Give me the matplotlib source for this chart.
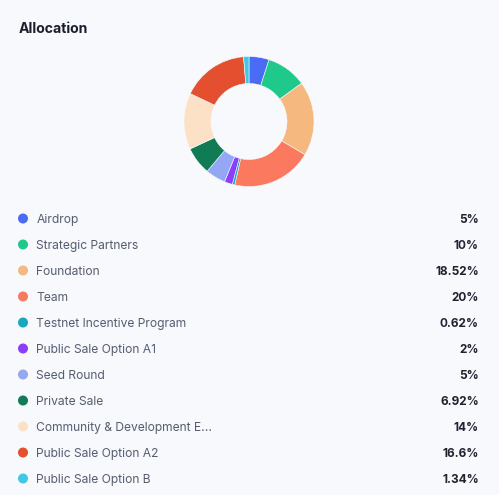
import numpy as np
import matplotlib.pyplot as plt

labels = ["Airdrop", "Strategic Partners", "Foundation", "Team",
          "Testnet Incentive Program", "Public Sale Option A1", "Seed Round",
          "Private Sale", "Community & Development E...", "Public Sale Option A2",
          "Public Sale Option B"]
values = [5, 10, 18.52, 20, 0.62, 2, 5, 6.92, 14, 16.6, 1.34]
value_text = ["5%", "10%", "18.52%", "20%", "0.62%", "2%", "5%", "6.92%",
              "14%", "16.6%", "1.34%"]
colors = ["#4a6cf4", "#1fc98b", "#f5b97f", "#fb7a5f", "#18a7c2", "#8b3ffb",
          "#93a7f5", "#117b55", "#fce1c6", "#e4502f", "#3fc9e7"]

W, H = 499, 495
bg = "#f8f9fc"
plt.rcParams['font.family'] = ['Inter', 'DejaVu Sans']

fig = plt.figure(figsize=(W / 100, H / 100), dpi=100, facecolor=bg)

def fx(x):
    return x / W

def fy(y):
    return 1 - y / H

# donut
cx, cy, r_out, r_in = 249, 121.5, 65, 38
ax = fig.add_axes([fx(cx - r_out), fy(cy + r_out), 2 * r_out / W, 2 * r_out / H])
ax.pie(values, colors=colors, startangle=90, counterclock=False, radius=1,
       wedgeprops=dict(width=1 - r_in / r_out, edgecolor=bg, linewidth=0.4))
ax.set_xlim(-1, 1)
ax.set_ylim(-1, 1)
ax.axis("off")

fig.text(fx(19), fy(33), "Allocation", fontsize=10.1, fontweight="bold",
         color="#1b1f2b", va="baseline", ha="left")

# legend rows
lax = fig.add_axes([0, 0, 1, 1])
lax.set_xlim(0, W)
lax.set_ylim(H, 0)
lax.axis("off")
for i, (lab, col, vt) in enumerate(zip(labels, colors, value_text)):
    y = 218.5 + i * 26
    lax.scatter([23], [y], s=52, color=col, edgecolors="none")
    lax.text(36.5, y + 4.3, lab, fontsize=8.7, color="#555d71",
             va="baseline", ha="left")
    lax.text(479, y + 4.4, vt, fontsize=8.5, color="#1f2330", fontweight="bold",
             va="baseline", ha="right")

fig.savefig("out.png", dpi=100, facecolor=bg)
